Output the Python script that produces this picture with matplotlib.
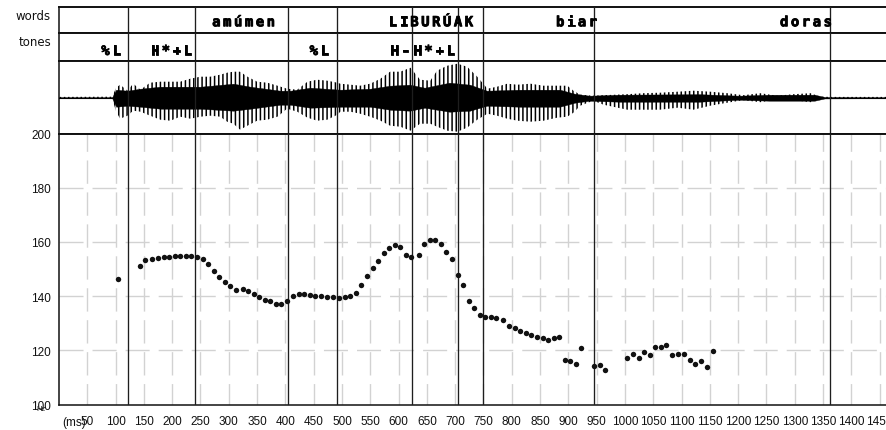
import matplotlib
matplotlib.use('Agg')
import matplotlib.pyplot as plt
from matplotlib import transforms as mtransforms
from matplotlib import patheffects as pe

plt.rcParams['lines.scale_dashes'] = False
plt.rcParams['hatch.linewidth'] = 1.1
plt.rcParams['hatch.color'] = 'black'

W, H, DPI = 887, 431, 100

# ---------------- data ----------------
pitch_ms = [103.5, 142.4, 152.5, 164.3, 174.2, 184.8, 194.9, 204.2, 214.3, 224.4,
            233.7, 243.8, 253.7, 263.2, 273.1, 283.2, 292.6, 302.7, 312.7, 324.4,
            333.9, 343.8, 353.9, 363.3, 373.3, 383.4, 392.8, 402.8, 412.7, 423.3,
            433.4, 442.8, 452.8, 462.9, 473.5, 484.1, 494.0, 505.8, 514.7, 524.7,
            533.6, 544.2, 554.1, 563.6, 573.5, 583.6, 592.9, 603.0, 613.1, 622.4,
            635.3, 645.4, 654.8, 664.8, 674.9, 684.3, 694.3, 704.2, 713.8, 723.7,
            733.7, 743.1, 751.9, 763.3, 772.6, 784.5, 795.6, 805.0, 815.0, 825.1,
            834.5, 844.5, 854.4, 864.0, 873.9, 883.9, 893.3, 903.4, 913.4, 922.8,
            944.5, 955.1, 965.2, 1003.5, 1013.4, 1024.0, 1034.1, 1044.7, 1053.5, 1063.6,
            1073.0, 1083.0, 1092.9, 1103.5, 1114.1, 1124.2, 1134.8, 1144.9, 1154.8]
pitch_hz = [146.3, 151.2, 153.3, 153.8, 154.2, 154.3, 154.3, 154.8, 154.9, 154.9,
            154.8, 154.6, 153.8, 152.0, 149.3, 147.0, 145.3, 143.9, 142.4, 142.7,
            141.7, 140.7, 139.7, 138.7, 138.1, 137.1, 137.0, 138.3, 140.2, 140.7,
            140.7, 140.3, 140.2, 140.2, 139.7, 139.6, 139.2, 139.6, 140.2, 141.2,
            144.0, 147.4, 150.4, 152.9, 155.8, 157.6, 158.9, 158.2, 155.3, 154.3,
            155.3, 159.2, 160.7, 160.7, 159.2, 156.3, 153.7, 147.8, 144.0, 138.2,
            135.7, 133.2, 132.2, 132.2, 131.9, 131.3, 129.1, 128.3, 127.3, 126.4,
            125.8, 124.9, 124.5, 123.9, 124.5, 125.0, 116.6, 116.2, 115.1, 121.0,
            114.2, 114.7, 112.6, 117.1, 118.6, 117.0, 119.4, 118.1, 121.4, 121.4,
            122.0, 118.1, 118.6, 118.6, 116.5, 114.9, 116.0, 114.0, 119.9]

boundaries_ms = [122, 240, 405, 491, 624, 705, 750, 946, 1363]

words = ['amúmen', 'LIBURÚAK', 'biar', 'doras']
word_label_end_ms = [384, 734, 953, 1368]
tones = ['%L', 'H*+L', '%L', 'H-', 'H*+L']
tone_label_end_ms = [111, 237, 479, 622, 701]

# waveform amplitude envelopes (outer = spike extent, core = dense part)
wave_ms = [0, 94, 101, 108, 121, 131, 144, 161, 179, 197, 214, 232, 250, 267, 285,
           297, 308, 320, 333, 350, 368, 386, 403, 421, 439, 456, 474, 492, 497, 515,
           532, 550, 568, 585, 603, 621, 638, 656, 668, 686, 704, 721, 739, 757, 774,
           792, 810, 833, 856, 880, 898, 909, 921, 944, 962, 1004, 1032, 1062, 1093,
           1121, 1151, 1181, 1209, 1239, 1269, 1298, 1328, 1345, 1363, 1463]
wave_outer_hi = [0.8, 1, 10, 13, 7, 14, 8, 15, 16, 16, 16, 19, 21, 21, 23,
                 25, 26, 26, 21, 16, 15, 12, 9, 8, 16, 18, 17, 15, 14, 13,
                 12, 14, 19, 26, 26, 30, 18, 17, 27, 32, 34, 31, 21, 9, 11,
                 14, 13, 14, 12, 12, 12, 7, 3, 2, 2.5, 3.5, 4.5, 5, 6,
                 7, 6, 4.5, 2.5, 4.5, 2, 3.5, 4.5, 1, 0.8, 0.8]
wave_outer_lo = [-0.8, -1, -14, -21, -18, -13, -14, -18, -22, -23, -19, -21, -19, -18, -19,
                 -24, -26, -32, -28, -23, -22, -19, -11, -14, -20, -23, -22, -17, -14, -14,
                 -16, -19, -23, -28, -29, -33, -26, -26, -29, -33, -34, -30, -22, -16, -18,
                 -21, -23, -24, -23, -20, -19, -15, -8, -3, -7, -12, -12, -12, -10,
                 -12, -8, -5, -2.5, -4.5, -2, -2.5, -4.5, -1, -0.8, -0.8]
wave_core_ms = [0, 94, 101, 121, 144, 179, 250, 308, 338, 391, 409, 444, 497, 550,
                585, 620, 646, 690, 726, 756, 814, 885, 911, 937, 990, 1132, 1202,
                1255, 1335, 1353, 1463]
wave_core_hi = [0.5, 0.5, 8, 7, 9, 11, 11, 14, 11, 7, 7, 10, 8, 9,
                12, 13, 10, 15, 13, 7, 8, 8, 4, 2, 3, 3.5, 2,
                3, 3, 0.7, 0.5]
wave_core_lo = [-0.5, -0.5, -9, -8, -9, -11, -11, -13, -11, -7, -7, -10, -9, -9,
                -12, -13, -10, -14, -13, -8, -9, -9, -5, -3, -4, -4, -2,
                -3, -3, -0.7, -0.5]

x_ticks_ms = list(range(50, 1500, 50))
y_ticks_hz = [100, 120, 140, 160, 180, 200]

# ---------------- layout ----------------
fig = plt.figure(figsize=(W / DPI, H / DPI), dpi=DPI)
XMAX = 1463
LEFT = 59


def rect(top, bottom):
    return [LEFT / W, 1 - bottom / H, (W - LEFT) / W, (bottom - top) / H]


ax_words = fig.add_axes(rect(8, 34))
ax_tones = fig.add_axes(rect(34, 62))
ax_wave = fig.add_axes(rect(62, 134.5))
ax_pitch = fig.add_axes(rect(134.5, 405.5))

for ax in (ax_words, ax_tones, ax_wave, ax_pitch):
    ax.set_xlim(0, XMAX)
    ax.spines['right'].set_visible(False)
    ax.spines['top'].set_linewidth(1.4)
    ax.spines['bottom'].set_linewidth(1.4)
    ax.spines['left'].set_linewidth(1.1)
    for s in ax.spines.values():
        s.set_color('#111111')
    if ax is not ax_pitch:
        ax.set_xticks([])
        ax.set_yticks([])
    for b in boundaries_ms:
        ax.axvline(b, color='#1e1e1e', lw=0.95, zorder=4)

ax_pitch.spines['bottom'].set_linewidth(1.1)

# ---------------- tiers ----------------
TIER_FONT = dict(family='DejaVu Sans Mono', weight='bold', size=10, color='black')
STEP_PX = 10.9
BOLDER = [pe.withStroke(linewidth=0.6, foreground='black')]


def spaced_text(ax, x_end, y, s):
    n = len(s)
    for i, ch in enumerate(s):
        dx = -(n - 1 - i) * STEP_PX - STEP_PX / 2
        tr = mtransforms.offset_copy(ax.get_xaxis_transform(), fig=fig,
                                     x=dx * 72 / DPI, y=0, units='points')
        ax.text(x_end, y, ch, transform=tr, ha='center', va='baseline',
                zorder=5, path_effects=BOLDER, **TIER_FONT)


for w, xe in zip(words, word_label_end_ms):
    spaced_text(ax_words, xe, 0.26, w)
for t, xe in zip(tones, tone_label_end_ms):
    spaced_text(ax_tones, xe, 0.21, t)

LABEL_FONT = dict(family='DejaVu Sans', size=8.5, color='#111111')
fig.text(51 / W, 1 - 19.5 / H, 'words', ha='right', va='baseline', **LABEL_FONT)
fig.text(51 / W, 1 - 46.5 / H, 'tones', ha='right', va='baseline', **LABEL_FONT)

# ---------------- waveform ----------------
ax_wave.set_ylim(-35.8, 36.7)
ax_wave.fill_between(wave_ms, wave_outer_lo, wave_outer_hi, facecolor='none',
                     edgecolor='black', linewidth=0, hatch='||||', zorder=2)
ax_wave.fill_between(wave_core_ms, wave_core_lo, wave_core_hi, facecolor='black',
                     edgecolor='black', linewidth=0.3, zorder=3)
ax_wave.axhline(0, color='black', lw=0.8, zorder=3)

# ---------------- pitch ----------------
ax_pitch.set_ylim(100, 200)
GRID_COL = '#d2d2d2'
for x in x_ticks_ms:
    ax_pitch.plot([x, x], [200, 100], color=GRID_COL, lw=1.0,
                  linestyle=(4.3, (16.8, 6.2)), zorder=1)
for y in y_ticks_hz[1:-1]:
    ax_pitch.plot([0, XMAX], [y, y], color=GRID_COL, lw=1.0,
                  linestyle=(0, (17.3, 6.5)), zorder=1)

ax_pitch.plot(pitch_ms, pitch_hz, 'o', color='#111111', markersize=3.9,
              markeredgewidth=0, zorder=6)

ax_pitch.set_xticks(x_ticks_ms)
ax_pitch.set_xticklabels([str(v) for v in x_ticks_ms])
ax_pitch.set_yticks(y_ticks_hz)
ax_pitch.set_yticklabels([str(v) for v in y_ticks_hz])
ax_pitch.tick_params(axis='x', length=0, pad=7.3, labelsize=8.5, labelcolor='#111111')
ax_pitch.tick_params(axis='y', length=0, pad=5.8, labelsize=8.5, labelcolor='#111111')
for lab in ax_pitch.get_xticklabels() + ax_pitch.get_yticklabels():
    lab.set_family('Liberation Sans')

fig.text(86 / W, 1 - 426.5 / H, '(ms)', ha='right', va='baseline',
         family='Liberation Sans', size=8.5, color='#111111')
fig.text(41 / W, 1 - 411 / H, 'Hz', ha='center', va='baseline',
         family='Liberation Sans', size=5.5, color='#111111')

fig.savefig('out.png', dpi=DPI)
